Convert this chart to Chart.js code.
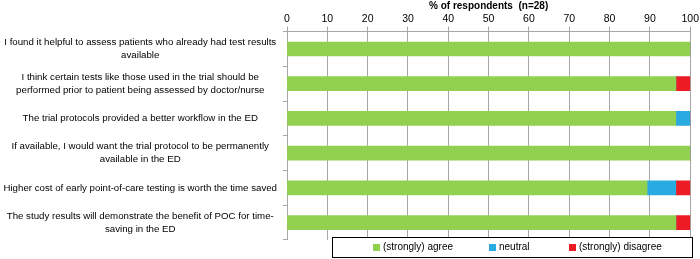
<!DOCTYPE html>
<html><head><meta charset="utf-8">
<script src="https://cdn.jsdelivr.net/npm/chart.js@4.4.1/dist/chart.umd.min.js"></script>
<style>html,body{margin:0;padding:0;background:#fff;}#wrap{width:700px;height:259px;}</style>
</head><body><div id="wrap"><canvas id="c"></canvas></div>
<script>
const categories = [
  ["I found it helpful to assess patients who already had test results", "available"],
  ["I think certain tests like those used in the trial should be", "performed prior to patient being assessed by doctor/nurse"],
  "The trial protocols provided a better workflow in the ED",
  ["If available, I would want the trial protocol to be permanently", "available in the ED"],
  "Higher cost of early point-of-care testing is worth the time saved",
  ["The study results will demonstrate the benefit of POC for time-", "saving in the ED"]
];
const seriesNames = ["(strongly) agree", "neutral", "(strongly) disagree"];
const agree    = [100, 96.43, 96.43, 100, 89.29, 96.43];
const neutral  = [0, 0, 3.57, 0, 7.14, 0];
const disagree = [0, 3.57, 0, 0, 3.57, 3.57];
const xTicks = [0,10,20,30,40,50,60,70,80,90,100];
const axisTitle = "% of respondents  (n=28)";

const colors = ["#92D050", "#29ABE2", "#ED1C24"];
const FONT = "'Liberation Sans', Arial, sans-serif";

const legendPlugin = {
  id: 'boxLegend',
  afterDraw(chart) {
    const ctx = chart.ctx;
    const x0 = 332, y0 = 237, w = 360, h = 20;
    ctx.save();
    ctx.fillStyle = '#fff';
    ctx.fillRect(x0, y0, w, h);
    ctx.strokeStyle = '#000';
    ctx.lineWidth = 1;
    ctx.strokeRect(x0 + 0.5, y0 + 0.5, w, h);
    ctx.font = "10px " + FONT;
    ctx.textBaseline = 'middle';
    const starts = [373, 489, 569];
    chart.data.datasets.forEach((ds, i) => {
      ctx.fillStyle = ds.backgroundColor;
      ctx.fillRect(starts[i], y0 + 7, 7, 7);
      ctx.fillStyle = '#000';
      ctx.fillText(ds.label, starts[i] + 10, y0 + 10.5);
    });
    ctx.restore();
  }
};

new Chart(document.getElementById('c'), {
  type: 'bar',
  data: {
    labels: categories,
    datasets: [
      { label: seriesNames[0], data: agree, backgroundColor: colors[0] },
      { label: seriesNames[1], data: neutral, backgroundColor: colors[1] },
      { label: seriesNames[2], data: disagree, backgroundColor: colors[2] }
    ]
  },
  options: {
    indexAxis: 'y',
    responsive: true,
    maintainAspectRatio: false,
    animation: false,
    datasets: { bar: { barThickness: 14, borderWidth: 0 } },
    layout: { padding: { top: 0, right: 4, bottom: 19, left: 0 } },
    plugins: { legend: { display: false }, tooltip: { enabled: false } },
    scales: {
      x: {
        position: 'top',
        stacked: true,
        min: 0, max: 100,
        afterBuildTicks(axis) { axis.ticks = xTicks.map(v => ({ value: v })); },
        ticks: { color: '#000', font: { size: 10.5, family: FONT }, padding: 1, maxRotation: 0 },
        grid: { color: '#A6A6A6', lineWidth: 1, tickLength: 5 },
        border: { color: '#A6A6A6' },
        title: { display: true, text: axisTitle, color: '#000', font: { size: 10, weight: 'bold', family: FONT }, padding: { top: 0, bottom: 0 } }
      },
      y: {
        stacked: true,
        afterFit(axis) { axis.width = 287; },
        ticks: { color: '#000', font: { size: 9.7, family: FONT, lineHeight: 1.35 }, padding: 6, crossAlign: 'center', align: 'center' },
        grid: { display: true, drawOnChartArea: false, color: '#A6A6A6', tickLength: 4, offset: true },
        border: { color: '#A6A6A6' }
      }
    }
  },
  plugins: [legendPlugin]
});
</script></body></html>
